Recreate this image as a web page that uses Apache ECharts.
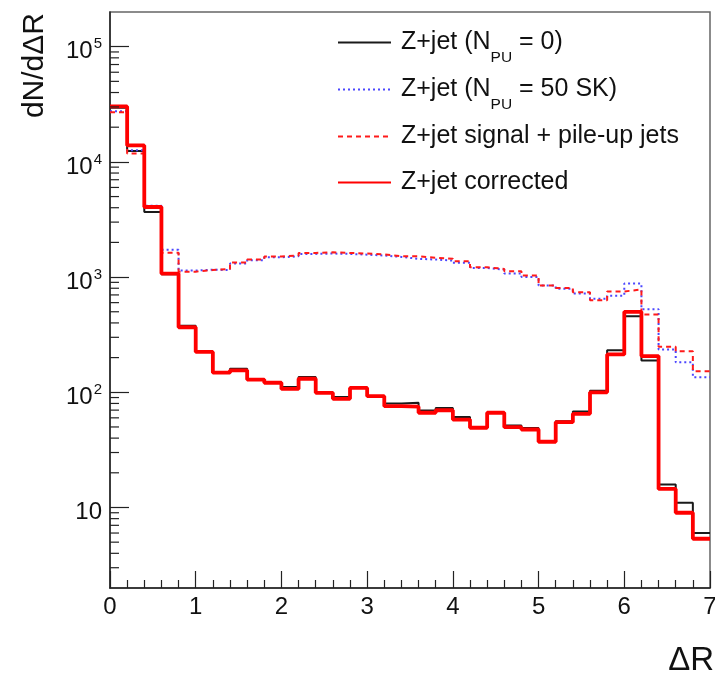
<!DOCTYPE html>
<html><head><meta charset="utf-8">
<script src="https://cdn.jsdelivr.net/npm/echarts@6/dist/echarts.min.js"></script>
<style>html,body{margin:0;padding:0;background:#fff}#c{width:715px;height:678px}</style>
</head><body><div id="c"></div>
<script>
// ---- data ----
const binEdges = [0,0.2,0.4,0.6,0.8,1.0,1.2,1.4,1.6,1.8,2.0,2.2,2.4,2.6,2.8,3.0,3.2,3.4,3.6,3.8,4.0,4.2,4.4,4.6,4.8,5.0,5.2,5.4,5.6,5.8,6.0,6.2,6.4,6.6,6.8,7.0];
const seriesNames = ['Z+jet (N_PU = 0)','Z+jet (N_PU = 50 SK)','Z+jet signal + pile-up jets','Z+jet corrected'];
const legendLabels = ['Z+jet (N{sub|PU} = 0)','Z+jet (N{sub|PU} = 50 SK)','Z+jet signal + pile-up jets','Z+jet corrected'];
const nominal = [29500,12400,3680,1060,378,226,148,160,130,122,111,136,100,91,110,93,80,81,69.5,73,61,49.5,66.5,51.5,49,37.5,56,68,103,232,457,189,15.8,11.0,6.0];
const pileupSK = [27500,12600,4170,1730,1138,1160,1150,1310,1400,1485,1515,1590,1600,1590,1565,1540,1497,1440,1420,1390,1330,1200,1162,1072,1004,844,790,720,647,690,879,527,235,182,135];
const signalPU = [27000,11800,4100,1630,1115,1150,1175,1335,1420,1510,1540,1620,1640,1620,1600,1570,1520,1515,1470,1440,1372,1216,1178,1122,1030,844,805,738,630,750,780,473,248,227,152];
const corrected = [30300,13900,4060,1072,367,224,148,155,129,121,107,131,99,87.7,109,92.5,75.7,75,66.4,69.8,58,49.2,66.4,49.8,47.5,37.2,55,65,100,213,499,206,14.5,9.0,5.35];
const xRange = [0, 7];
const yRange = [2, 200000];
const xTitle = 'ΔR';
const yTitle = 'dN/dΔR';

// ---- layout / style ----
const G = {left:110, top:12, width:600, height:576};
const FONT = '"Liberation Sans", Arial, Helvetica, sans-serif';

function histData(vals){
  return binEdges.map((e,i)=>[e, vals[Math.min(i, vals.length-1)]]);
}
function mk(name, vals, color, width, type, z){
  return {name, type:'line', step:'end', data:histData(vals), symbol:'none', showSymbol:false,
    lineStyle:{color, width, type}, itemStyle:{color}, z, animation:false};
}

const chart = echarts.init(document.getElementById('c'), null, {renderer:'canvas'});
const option = {
  backgroundColor:'#fff',
  animation:false,
  grid:{left:G.left, top:G.top, width:G.width, height:G.height, containLabel:false, outerBoundsMode:'none',
        show:true, borderColor:'#666', borderWidth:1.5, backgroundColor:'transparent'},
  legend:{
    orient:'vertical', left:337, top:20, padding:0, itemWidth:53, itemHeight:14, itemGap:1,
    data:seriesNames,
    itemStyle:{color:'transparent', borderColor:'transparent', borderWidth:0, opacity:0},
    formatter:(n)=>legendLabels[seriesNames.indexOf(n)],
    textStyle:{fontFamily:FONT, fontSize:25, color:'#111', lineHeight:45, padding:[0,0,0,5],
      rich:{sub:{fontFamily:FONT, fontSize:15.5, lineHeight:15, padding:[30,0,0,0], verticalAlign:'top', color:'#111'}}}
  },
  xAxis:{
    type:'value', min:xRange[0], max:xRange[1], interval:1,
    axisLine:{show:true, onZero:false, lineStyle:{color:'#222', width:1.5}},
    axisTick:{show:true, inside:true, length:17, lineStyle:{color:'#222', width:1.2}},
    minorTick:{show:true, splitNumber:5, length:8, lineStyle:{color:'#222', width:1.2}},
    splitLine:{show:false},
    axisLabel:{fontFamily:FONT, fontSize:24, color:'#111', margin:7}
  },
  yAxis:{
    type:'log', logBase:10, min:yRange[0], max:yRange[1],
    axisLine:{show:true, lineStyle:{color:'#222', width:1.5}},
    axisTick:{show:true, inside:true, length:19, lineStyle:{color:'#222', width:1.2}},
    splitLine:{show:false},
    axisLabel:{
      fontFamily:FONT, fontSize:24, color:'#111', margin:8, lineHeight:30, padding:[10,0,0,0],
      showMinLabel:false, showMaxLabel:false,
      formatter:(v)=>{
        const e = Math.round(Math.log10(v));
        if (Math.abs(Math.pow(10,e)-v) > 1e-6*v) return '';
        return e === 1 ? '10' : '10{s|' + e + '}';
      },
      rich:{s:{fontFamily:FONT, fontSize:15, lineHeight:15, padding:[0,0,15,1], color:'#111'}}
    }
  },
  series:[
    mk(seriesNames[0], nominal, '#1a1a1a', 2, 'solid', 2),
    mk(seriesNames[1], pileupSK, '#4b46ff', 2, [2,3], 3),
    mk(seriesNames[2], signalPU, '#ff1a1a', 2, [5,4], 4),
    mk(seriesNames[3], corrected, '#ff0000', 3.8, 'solid', 5)
  ]
};
chart.setOption(option);

// ROOT-style minor ticks on the log axis (2..9 per decade)
const gfx = [
  {type:'text', x:35, y:13, rotation:Math.PI/2,
   style:{text:yTitle, fontFamily:FONT, fontSize:30, fill:'#111', align:'right', verticalAlign:'middle'}},
  {type:'text', x:714, y:661,
   style:{text:xTitle, fontFamily:FONT, fontSize:33, fill:'#111', align:'right', verticalAlign:'middle'}}
];
for (let d = 0; d <= 5; d++) {
  for (let m = 2; m <= 9; m++) {
    const v = m * Math.pow(10, d);
    if (v <= yRange[0] || v >= yRange[1]) continue;
    const py = chart.convertToPixel({yAxisIndex:0}, v);
    gfx.push({type:'line', silent:true, z:10,
      shape:{x1:G.left, y1:py, x2:G.left+9, y2:py},
      style:{stroke:'#222', lineWidth:1.2}});
  }
}
chart.setOption({graphic:gfx});
</script>
</body></html>
